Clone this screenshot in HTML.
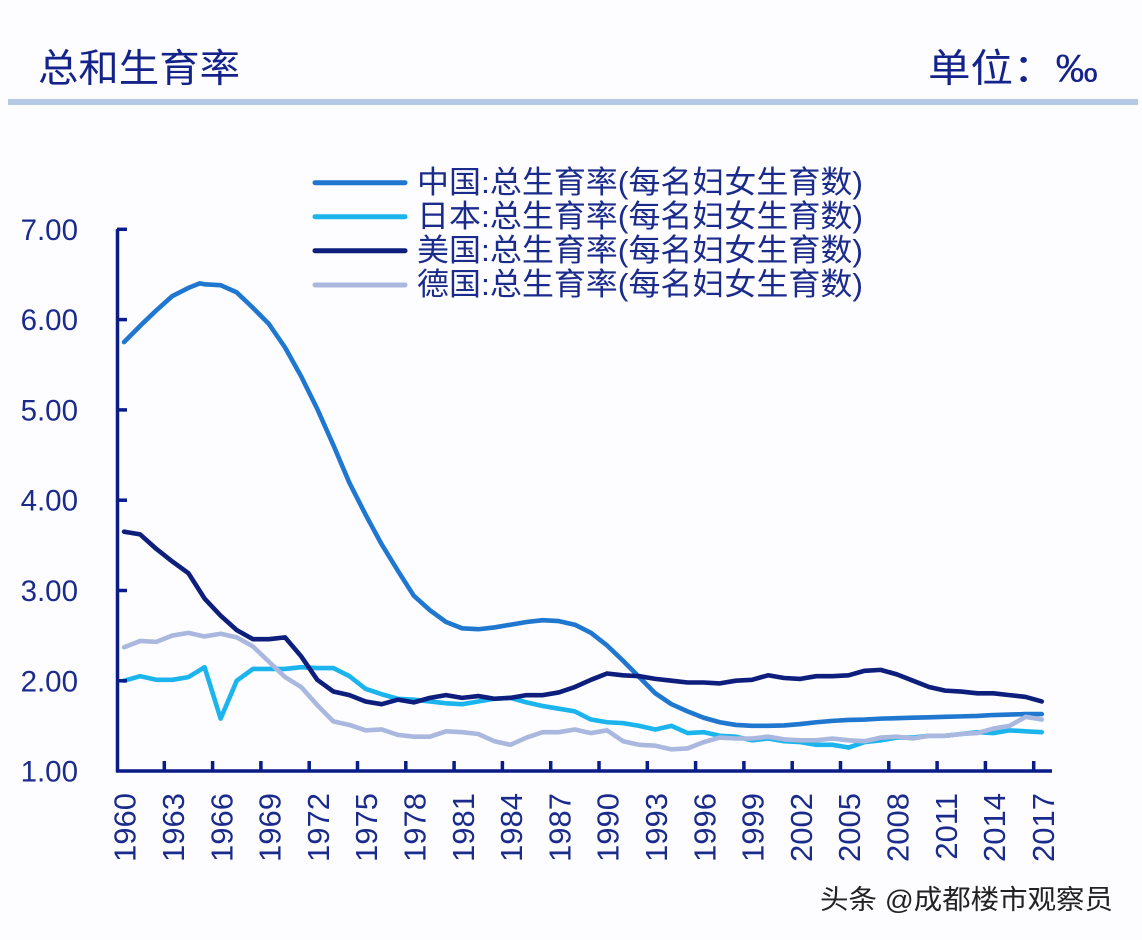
<!DOCTYPE html>
<html>
<head>
<meta charset="utf-8">
<style>
  html,body{margin:0;padding:0;background:#fdfdff;}
  svg{display:block;}
  text{font-family:"Liberation Sans","Noto Sans CJK SC",sans-serif;}
</style>
</head>
<body>
<svg width="1142" height="940" viewBox="0 0 1142 940" xmlns="http://www.w3.org/2000/svg">
  <rect x="0" y="0" width="1142" height="940" fill="#fdfdff"/>

  <!-- Title -->
  <text x="38" y="82" font-size="39" fill="#14238a" textLength="202" lengthAdjust="spacingAndGlyphs">总和生育率</text>
  <text x="928" y="82" font-size="39" fill="#14238a" textLength="170" lengthAdjust="spacingAndGlyphs">单位：‰</text>
  <rect x="8" y="99" width="1130" height="6" fill="#b5c8e4"/>

  <!-- Legend -->
  <g stroke-width="5" stroke-linecap="round">
    <line x1="315" y1="182.7" x2="405" y2="182.7" stroke="#1f77d0"/>
    <line x1="315" y1="216.7" x2="405" y2="216.7" stroke="#1cb4ec"/>
    <line x1="315" y1="250.7" x2="405" y2="250.7" stroke="#0d1e7c"/>
    <line x1="315" y1="285" x2="405" y2="285" stroke="#aab8df"/>
  </g>
  <g font-size="31" fill="#1b2b8c">
    <text x="417" y="193" textLength="446" lengthAdjust="spacingAndGlyphs">中国:总生育率(每名妇女生育数)</text>
    <text x="417" y="227" textLength="446" lengthAdjust="spacingAndGlyphs">日本:总生育率(每名妇女生育数)</text>
    <text x="417" y="261" textLength="446" lengthAdjust="spacingAndGlyphs">美国:总生育率(每名妇女生育数)</text>
    <text x="417" y="295" textLength="446" lengthAdjust="spacingAndGlyphs">德国:总生育率(每名妇女生育数)</text>
  </g>

  <!-- Y tick labels -->
  <g font-size="29.5" fill="#1b2b8c" text-anchor="end">
    <text x="78" y="239.8">7.00</text>
    <text x="78" y="330.1">6.00</text>
    <text x="78" y="420.4">5.00</text>
    <text x="78" y="510.7">4.00</text>
    <text x="78" y="601">3.00</text>
    <text x="78" y="691.3">2.00</text>
    <text x="78" y="781.5">1.00</text>
  </g>

  <!-- Series -->
  <g transform="translate(124.05,861.3) scale(16.1,-90.3)" fill="none" stroke-linejoin="round" stroke-linecap="round">
    <!-- China -->
    <polyline vector-effect="non-scaling-stroke" stroke="#1f77d0" stroke-width="4.6" points="
      0,5.75 1,5.93 2,6.10 3,6.26 4,6.35 4.7,6.40 5,6.39 6,6.38 7,6.30 8,6.13 9,5.95
      10,5.69 11,5.37 12,5.01 13,4.61 14,4.19 15,3.84 16,3.51 17,3.22 18,2.94 19,2.78
      20,2.65 21,2.58 22,2.57 23,2.59 24,2.62 25,2.65 26,2.67 27,2.66 28,2.62 29,2.53
      30,2.39 31,2.22 32,2.04 33,1.86 34,1.74 35,1.66 36,1.59 37,1.54 38,1.51 39,1.50
      40,1.50 41,1.505 42,1.52 43,1.54 44,1.555 45,1.565 46,1.57 47,1.58 48,1.585 49,1.59
      50,1.595 51,1.60 52,1.605 53,1.61 54,1.62 55,1.625 56,1.63 57,1.63"/>
    <!-- Japan -->
    <polyline vector-effect="non-scaling-stroke" stroke="#1cb4ec" stroke-width="4.6" points="
      0,2.00 1,2.05 2,2.01 3,2.01 4,2.04 5,2.15 6,1.58 7,2.00 8,2.13 9,2.13
      10,2.13 11,2.15 12,2.14 13,2.14 14,2.05 15,1.91 16,1.85 17,1.80 18,1.79 19,1.77
      20,1.75 21,1.74 22,1.77 23,1.80 24,1.81 25,1.76 26,1.72 27,1.69 28,1.66 29,1.57
      30,1.54 31,1.53 32,1.50 33,1.46 34,1.50 35,1.42 36,1.43 37,1.39 38,1.38 39,1.34
      40,1.36 41,1.33 42,1.32 43,1.29 44,1.29 45,1.26 46,1.32 47,1.34 48,1.37 49,1.37
      50,1.39 51,1.39 52,1.41 53,1.43 54,1.42 55,1.45 56,1.44 57,1.43"/>
    <!-- USA -->
    <polyline vector-effect="non-scaling-stroke" stroke="#0d1e7c" stroke-width="4.6" points="
      0,3.65 1,3.62 2,3.46 3,3.32 4,3.19 5,2.91 6,2.72 7,2.56 8,2.46 9,2.46
      10,2.48 11,2.27 12,2.01 13,1.88 14,1.84 15,1.77 16,1.74 17,1.79 18,1.76 19,1.81
      20,1.84 21,1.81 22,1.83 23,1.80 24,1.81 25,1.84 26,1.84 27,1.87 28,1.93 29,2.01
      30,2.08 31,2.06 32,2.05 33,2.02 34,2.00 35,1.98 36,1.98 37,1.97 38,2.00 39,2.01
      40,2.06 41,2.03 42,2.02 43,2.05 44,2.05 45,2.06 46,2.11 47,2.12 48,2.07 49,2.00
      50,1.93 51,1.89 52,1.88 53,1.86 54,1.86 55,1.84 56,1.82 57,1.77"/>
    <!-- Germany -->
    <polyline vector-effect="non-scaling-stroke" stroke="#aab8df" stroke-width="4.6" points="
      0,2.37 1,2.44 2,2.43 3,2.50 4,2.53 5,2.49 6,2.52 7,2.48 8,2.38 9,2.21
      10,2.04 11,1.93 12,1.73 13,1.55 14,1.51 15,1.45 16,1.46 17,1.40 18,1.38 19,1.38
      20,1.44 21,1.43 22,1.41 23,1.33 24,1.29 25,1.37 26,1.43 27,1.43 28,1.46 29,1.42
      30,1.45 31,1.33 32,1.29 33,1.28 34,1.24 35,1.25 36,1.32 37,1.37 38,1.36 39,1.36
      40,1.38 41,1.35 42,1.34 43,1.34 44,1.36 45,1.34 46,1.33 47,1.37 48,1.38 49,1.36
      50,1.39 51,1.39 52,1.41 53,1.42 54,1.47 55,1.50 56,1.60 57,1.57"/>
  </g>

  <!-- Axes -->
  <g stroke="#0a1c88" stroke-width="3.5" fill="none">
    <line x1="117.5" y1="229" x2="117.5" y2="772.5"/>
    <line x1="116" y1="771" x2="1052" y2="771"/>
    <!-- y ticks -->
    <line x1="117" y1="229.3" x2="127" y2="229.3"/>
    <line x1="117" y1="319.6" x2="127" y2="319.6"/>
    <line x1="117" y1="409.9" x2="127" y2="409.9"/>
    <line x1="117" y1="500.2" x2="127" y2="500.2"/>
    <line x1="117" y1="590.5" x2="127" y2="590.5"/>
    <line x1="117" y1="680.8" x2="127" y2="680.8"/>
    <!-- x ticks -->
    <line x1="164.3" y1="761" x2="164.3" y2="771"/>
    <line x1="212.6" y1="761" x2="212.6" y2="771"/>
    <line x1="260.9" y1="761" x2="260.9" y2="771"/>
    <line x1="309.2" y1="761" x2="309.2" y2="771"/>
    <line x1="357.5" y1="761" x2="357.5" y2="771"/>
    <line x1="405.8" y1="761" x2="405.8" y2="771"/>
    <line x1="454.1" y1="761" x2="454.1" y2="771"/>
    <line x1="502.4" y1="761" x2="502.4" y2="771"/>
    <line x1="550.7" y1="761" x2="550.7" y2="771"/>
    <line x1="599" y1="761" x2="599" y2="771"/>
    <line x1="647.3" y1="761" x2="647.3" y2="771"/>
    <line x1="695.6" y1="761" x2="695.6" y2="771"/>
    <line x1="743.9" y1="761" x2="743.9" y2="771"/>
    <line x1="792.2" y1="761" x2="792.2" y2="771"/>
    <line x1="840.5" y1="761" x2="840.5" y2="771"/>
    <line x1="888.8" y1="761" x2="888.8" y2="771"/>
    <line x1="937.1" y1="761" x2="937.1" y2="771"/>
    <line x1="985.4" y1="761" x2="985.4" y2="771"/>
    <line x1="1033.7" y1="761" x2="1033.7" y2="771"/>
  </g>

  <!-- X labels (rotated) -->
  <g font-size="31" fill="#1b2b8c" text-anchor="end">
    <text transform="translate(124.5,793) rotate(-90)" dy="0.36em">1960</text>
    <text transform="translate(172.8,793) rotate(-90)" dy="0.36em">1963</text>
    <text transform="translate(221.1,793) rotate(-90)" dy="0.36em">1966</text>
    <text transform="translate(269.4,793) rotate(-90)" dy="0.36em">1969</text>
    <text transform="translate(317.7,793) rotate(-90)" dy="0.36em">1972</text>
    <text transform="translate(366,793) rotate(-90)" dy="0.36em">1975</text>
    <text transform="translate(414.3,793) rotate(-90)" dy="0.36em">1978</text>
    <text transform="translate(462.6,793) rotate(-90)" dy="0.36em">1981</text>
    <text transform="translate(510.9,793) rotate(-90)" dy="0.36em">1984</text>
    <text transform="translate(559.2,793) rotate(-90)" dy="0.36em">1987</text>
    <text transform="translate(607.5,793) rotate(-90)" dy="0.36em">1990</text>
    <text transform="translate(655.8,793) rotate(-90)" dy="0.36em">1993</text>
    <text transform="translate(704.1,793) rotate(-90)" dy="0.36em">1996</text>
    <text transform="translate(752.4,793) rotate(-90)" dy="0.36em">1999</text>
    <text transform="translate(800.7,793) rotate(-90)" dy="0.36em">2002</text>
    <text transform="translate(849,793) rotate(-90)" dy="0.36em">2005</text>
    <text transform="translate(897.3,793) rotate(-90)" dy="0.36em">2008</text>
    <text transform="translate(945.6,793) rotate(-90)" dy="0.36em">2011</text>
    <text transform="translate(993.9,793) rotate(-90)" dy="0.36em">2014</text>
    <text transform="translate(1042.7,793) rotate(-90)" dy="0.36em">2017</text>
  </g>

  <!-- Watermark -->
  <text x="820" y="909" font-size="27" fill="#222222" textLength="293" lengthAdjust="spacingAndGlyphs">头条 @成都楼市观察员</text>
</svg>
</body>
</html>
